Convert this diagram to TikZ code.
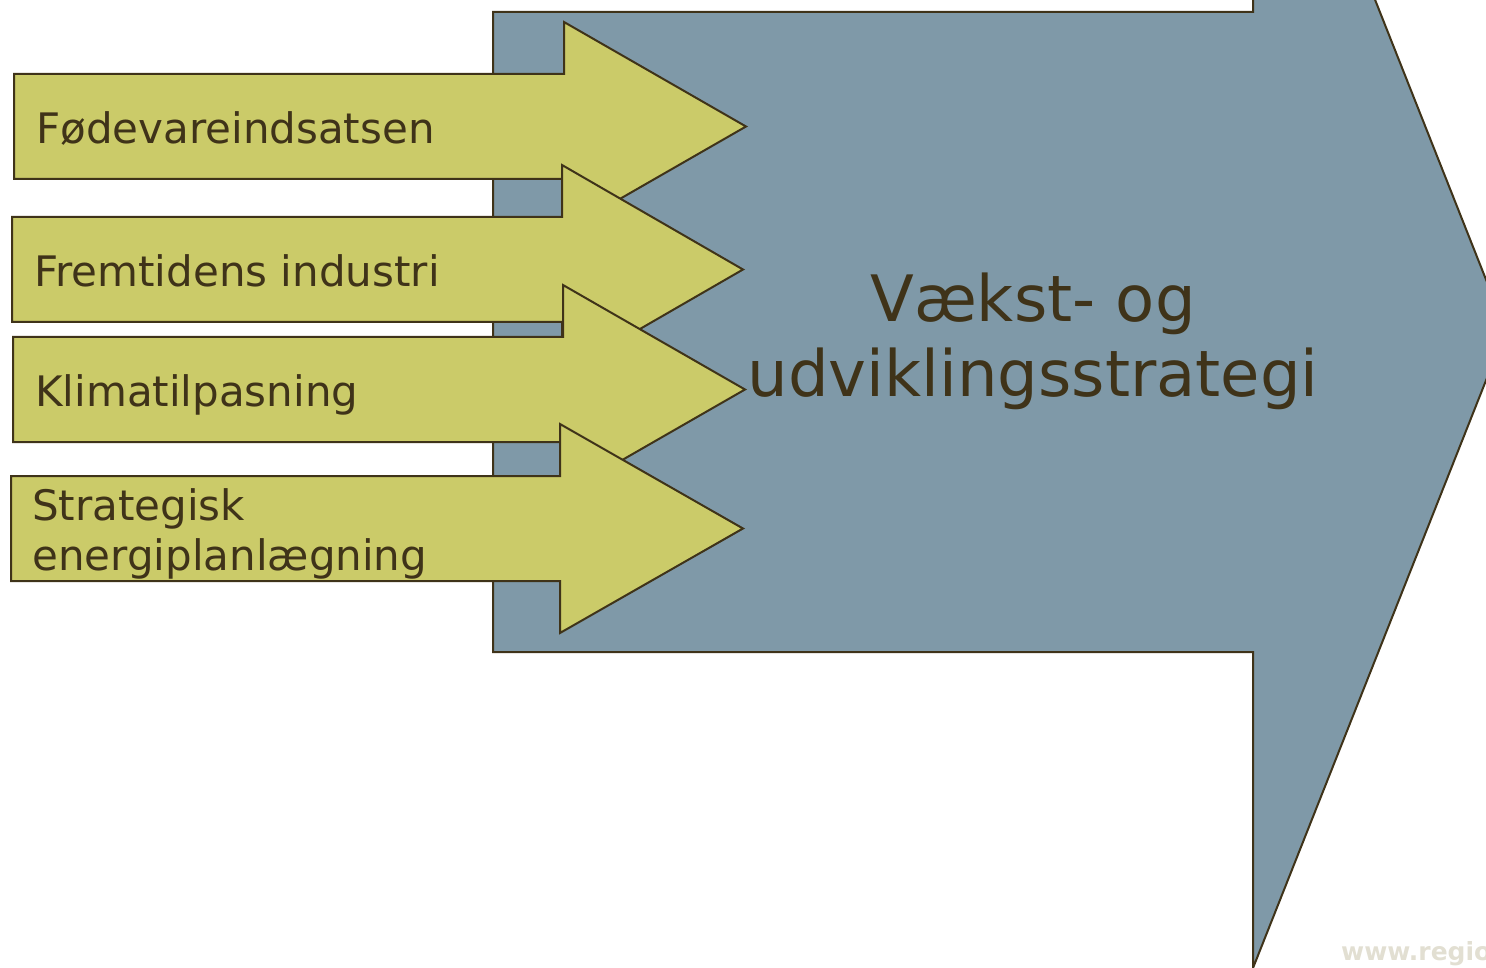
\documentclass[tikz,border=0pt]{standalone}
\usepackage{fontspec}
\setmainfont{DejaVu Sans}
\usepackage{xcolor}
\definecolor{Steel Grey}{HTML}{7F99A8}
\definecolor{Pear Green}{HTML}{CBCB69}
\definecolor{Dark Umber}{HTML}{3F3319}
\definecolor{Linen Grey}{HTML}{E2DFD2}
\colorlet{cBlue}{Steel Grey}
\colorlet{cGreen}{Pear Green}
\colorlet{cLine}{Dark Umber}
\colorlet{cMark}{Linen Grey}
\usetikzlibrary{positioning}
\tikzset{
	x = 1pt,
	y = -1pt,
	big arrow/.style={
		draw=cLine,
		fill=cBlue,
		line width=2pt
	},
	small arrow/.style={
		draw=cLine,
		fill=cGreen,
		line width=2pt
	},
	arrow text/.style={
		text=cLine,
		inner sep=0pt,
		anchor=base west,
		align=left,
		font=\fontsize{42}{50}\selectfont
	},
	title text/.style={
		text=cLine,
		inner sep=0pt,
		align=center,
		font=\fontsize{64}{75}\selectfont
	},
	web text/.style={
		text=cMark,
		inner sep=0pt,
		anchor=base west,
		font=\bfseries\fontsize{25}{30}\selectfont
	}
}

\begin{document}
\begin{tikzpicture}
\useasboundingbox (0,0) rectangle (1486,968);
\clip (0,0) rectangle (1486,968);

% ---
% Big arrow
% ---
\draw[big arrow] (493,12) -- (1253,12) -- (1253,-308) -- (1506,330)
	-- (1253,968) -- (1253,652) -- (493,652) -- cycle;
\node[title text] at (1033,341) (strategy) {Vækst- og\\udviklingsstrategi};

% ---
% Small arrows
% ---
\draw[small arrow] (14,74) -- (564,74) -- (564,22) -- (746,126.5)
	-- (564,231) -- (564,179) -- (14,179) -- cycle;
\draw[small arrow] (12,217) -- (562,217) -- (562,165) -- (743,269.5)
	-- (562,374) -- (562,322) -- (12,322) -- cycle;
\draw[small arrow] (13,337) -- (563,337) -- (563,285) -- (745,389.5)
	-- (563,494) -- (563,442) -- (13,442) -- cycle;
\draw[small arrow] (11,476) -- (560,476) -- (560,424) -- (743,528.5)
	-- (560,633) -- (560,581) -- (11,581) -- cycle;

\node[arrow text] at (36,143.5) (food) {Fødevareindsatsen};
\node[arrow text] at (34,286.5) (industry) {Fremtidens industri};
\node[arrow text] at (35,406.5) (climate) {Klimatilpasning};
\node[arrow text] at (32,570) (energy) {Strategisk\\energiplanlægning};

\node[web text] at (1341,960) (web) {www.regio};

\end{tikzpicture}
\end{document}
